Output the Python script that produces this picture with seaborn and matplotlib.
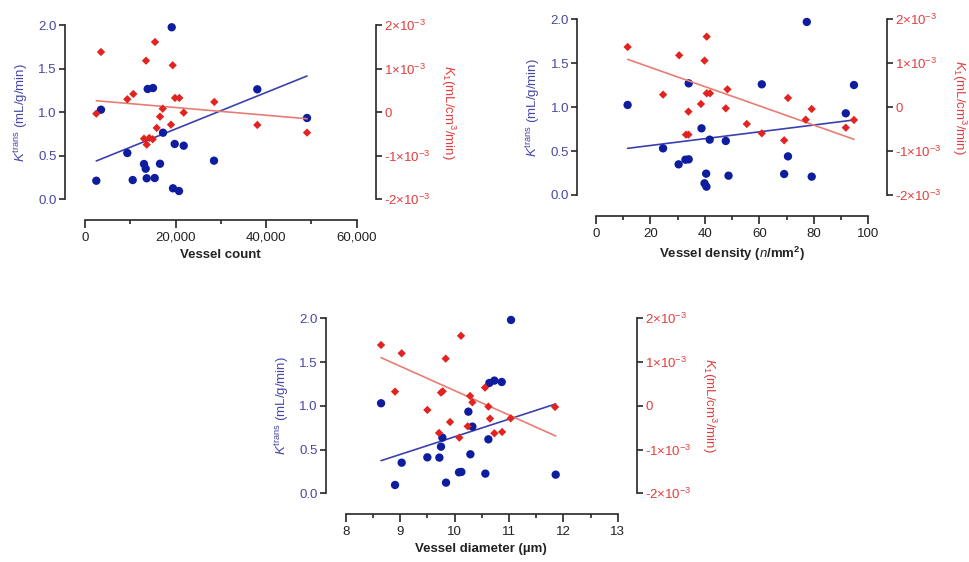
import numpy as np
import pandas as pd
import matplotlib
matplotlib.use("Agg")
import matplotlib.pyplot as plt
from matplotlib.ticker import FixedLocator, FixedFormatter
import seaborn as sns

# ---- Vessel count ----
count_x_ktrans = [2495, 3533, 9340, 10532, 13027, 13403, 13623, 13844, 15014, 15390,
                  16560, 17222, 19143, 19430, 19806, 20755, 21793, 28483, 38044, 49018]
count_ktrans = [0.213, 1.028, 0.531, 0.221, 0.405, 0.351, 0.241, 1.266, 1.277, 0.244,
                0.408, 0.764, 1.974, 0.126, 0.635, 0.095, 0.615, 0.443, 1.262, 0.933]
count_x_k1 = [2495, 3533, 9340, 10664, 13027, 13623, 14197, 14948, 13469, 15456, 15832,
              16560, 17156, 18989, 19364, 19872, 20821, 21793, 28549, 38044, 49018]
count_k1 = [-0.034e-3, 1.381e-3, 0.296e-3, 0.417e-3, -0.608e-3, -0.745e-3, -0.592e-3,
            -0.622e-3, 1.181e-3, 1.610e-3, -0.362e-3, -0.103e-3, 0.080e-3, -0.287e-3,
            1.076e-3, 0.326e-3, 0.326e-3, -0.011e-3, 0.234e-3, -0.294e-3, -0.470e-3]
# fitted trend lines (value at the first and last vessel count)
count_fit_x = [2495, 49018]
count_fit_ktrans = [0.440, 1.415]
count_fit_k1 = [0.262e-3, -0.151e-3]

# ---- Vessel density ----
density_x_ktrans = [11.7, 24.7, 30.4, 32.9, 34.1, 34.1, 38.8, 40.5, 39.9, 40.6,
                    41.8, 47.7, 48.7, 60.9, 69.1, 70.5, 77.4, 79.2, 91.7, 94.7]
density_ktrans = [1.025, 0.531, 0.349, 0.402, 0.406, 1.271, 0.759, 0.243, 0.133, 0.095,
                  0.630, 0.615, 0.220, 1.260, 0.239, 0.440, 1.970, 0.209, 0.930, 1.252]
density_x_k1 = [11.7, 24.7, 30.6, 33.1, 34.0, 34.0, 38.6, 40.7, 39.9, 40.7, 41.9,
                47.7, 48.3, 55.4, 60.9, 69.1, 70.5, 77.0, 79.2, 91.7, 94.7]
density_k1 = [1.370e-3, 0.285e-3, 1.180e-3, -0.626e-3, -0.626e-3, -0.102e-3, 0.072e-3,
              1.605e-3, 1.059e-3, 0.315e-3, 0.315e-3, -0.027e-3, 0.406e-3, -0.383e-3,
              -0.596e-3, -0.755e-3, 0.209e-3, -0.285e-3, -0.042e-3, -0.467e-3, -0.292e-3]
density_fit_x = [11.7, 94.7]
density_fit_ktrans = [0.531, 0.854]
density_fit_k1 = [1.089e-3, -0.732e-3]

# ---- Vessel diameter ----
diameter_x_ktrans = [8.650, 8.907, 9.029, 9.501, 9.722, 9.752, 9.777, 9.844, 10.083, 10.126,
                     10.255, 10.292, 10.328, 10.567, 10.623, 10.641, 10.733, 10.868, 11.039, 11.860]
diameter_ktrans = [1.029, 0.095, 0.350, 0.411, 0.408, 0.533, 0.636, 0.122, 0.240, 0.244,
                   0.933, 0.446, 0.762, 0.225, 0.617, 1.261, 1.288, 1.272, 1.981, 0.213]
diameter_x_k1 = [8.650, 8.907, 9.029, 9.501, 9.716, 9.752, 9.783, 9.838, 9.918, 10.089, 10.120,
                 10.243, 10.286, 10.328, 10.561, 10.623, 10.653, 10.733, 10.874, 11.033, 11.848]
diameter_k1 = [1.390e-3, 0.324e-3, 1.200e-3, -0.095e-3, -0.621e-3, 0.301e-3, 0.331e-3,
               1.078e-3, -0.370e-3, -0.728e-3, 1.600e-3, -0.469e-3, 0.225e-3, 0.080e-3,
               0.415e-3, -0.019e-3, -0.293e-3, -0.629e-3, -0.598e-3, -0.286e-3, -0.027e-3]
diameter_fit_x = [8.650, 11.860]
diameter_fit_ktrans = [0.373, 1.021]
diameter_fit_k1 = [1.101e-3, -0.690e-3]

# axis ticks / labels
count_ticks = [0, 20000, 40000, 60000]
count_ticklabels = ["0", "20,000", "40,000", "60,000"]
density_ticks = [0, 20, 40, 60, 80, 100]
density_ticklabels = ["0", "20", "40", "60", "80", "100"]
diameter_ticks = [8, 9, 10, 11, 12, 13]
diameter_ticklabels = ["8", "9", "10", "11", "12", "13"]
ktrans_ticks = [0.0, 0.5, 1.0, 1.5, 2.0]
ktrans_ticklabels = ["0.0", "0.5", "1.0", "1.5", "2.0"]
k1_ticks = [-2e-3, -1e-3, 0, 1e-3, 2e-3]
k1_ticklabels = [r"-2$\times$10$^{-3}$", r"-1$\times$10$^{-3}$", "0",
                 r"1$\times$10$^{-3}$", r"2$\times$10$^{-3}$"]

sns.set_style("ticks")
plt.rcParams["font.family"] = ["Liberation Sans", "DejaVu Sans"]
plt.rcParams["mathtext.fontset"] = "custom"
plt.rcParams["mathtext.rm"] = "Liberation Sans"
plt.rcParams["mathtext.it"] = "Liberation Sans:italic"
plt.rcParams["mathtext.bf"] = "Liberation Sans:bold"

BLUE_PT = "#0e1c9e"
RED_PT = "#e2231f"
BLUE_LINE = "#3c40ae"
RED_LINE = "#e97d74"
BLUE_TXT = "#4747a6"
RED_TXT = "#e23d3d"
AXIS = "#262626"

W, H = 970, 562
fig = plt.figure(figsize=(W / 100, H / 100), dpi=100)
fig.patch.set_facecolor("white")


def px_rect(left, top, right, bottom):
    return [left / W, 1 - bottom / H, (right - left) / W, (bottom - top) / H]


def panel(rect, xlim, ticks, ticklabels, minor, xlabel, xb, kt, xr, k1,
          fit_x, fit_kt, fit_k1):
    ax = fig.add_axes(rect)
    ax2 = ax.twinx()

    sns.lineplot(x=fit_x, y=fit_kt, ax=ax, color=BLUE_LINE, lw=1.2)
    sns.scatterplot(x=xb, y=kt, ax=ax, color=BLUE_PT, s=36, edgecolor="none",
                    clip_on=False, zorder=3)
    sns.lineplot(x=fit_x, y=fit_k1, ax=ax2, color=RED_LINE, lw=1.2)
    sns.scatterplot(x=xr, y=k1, ax=ax2, marker="D", color=RED_PT, s=18,
                    edgecolor="none", clip_on=False, zorder=3)

    ax.set_xlim(*xlim)
    ax.set_ylim(0, 2)
    ax2.set_ylim(-2e-3, 2e-3)

    # spines
    for a in (ax, ax2):
        a.spines["top"].set_visible(False)
    ax.spines["right"].set_visible(False)
    ax2.spines["left"].set_visible(False)
    ax2.spines["bottom"].set_visible(False)
    for s in ("left", "bottom"):
        ax.spines[s].set_color(AXIS)
        ax.spines[s].set_linewidth(1.2)
    ax2.spines["right"].set_color(AXIS)
    ax2.spines["right"].set_linewidth(1.2)
    ax.spines["bottom"].set_position(("outward", 15))
    ax.spines["bottom"].set_bounds(ticks[0], ticks[-1])

    # x axis
    ax.xaxis.set_major_locator(FixedLocator(ticks))
    ax.xaxis.set_major_formatter(FixedFormatter(ticklabels))
    ax.xaxis.set_minor_locator(FixedLocator(minor))
    ax.tick_params(axis="x", which="major", direction="out", length=5.5, width=1.2,
                   color=AXIS, labelsize=9.5, labelcolor="#222222", pad=3)
    ax.tick_params(axis="x", which="minor", direction="out", length=3, width=1.2, color=AXIS)
    ax.set_xlabel(xlabel, fontsize=9.5, fontweight="bold", color="#222222", labelpad=4)

    # left y axis
    ax.yaxis.set_major_locator(FixedLocator(ktrans_ticks))
    ax.yaxis.set_major_formatter(FixedFormatter(ktrans_ticklabels))
    ax.tick_params(axis="y", direction="out", length=4, width=1.2, color=AXIS,
                   labelsize=9.5, labelcolor=BLUE_TXT, pad=2)
    ax.set_ylabel(r"$K^{\mathrm{trans}}$ (mL/g/min)", fontsize=9.5, color=BLUE_TXT,
                  labelpad=6)

    # right y axis
    ax2.yaxis.set_major_locator(FixedLocator(k1_ticks))
    ax2.yaxis.set_major_formatter(FixedFormatter(k1_ticklabels))
    ax2.tick_params(axis="y", direction="out", length=4, width=1.2, color=AXIS,
                    labelsize=9.5, labelcolor=RED_TXT, pad=2)
    ax2.set_ylabel(r"$K_1$(mL/cm$^3$/min)", fontsize=9.5, color=RED_TXT,
                   rotation=270, labelpad=19)
    for a in (ax, ax2):
        a.set_facecolor("none")
        a.grid(False)
    return ax, ax2


panel(px_rect(65, 25, 376, 199.3), (-4416, 64250), count_ticks, count_ticklabels,
      [10000, 30000, 50000], "Vessel count",
      count_x_ktrans, count_ktrans, count_x_k1, count_k1,
      count_fit_x, count_fit_ktrans, count_fit_k1)

panel(px_rect(577.3, 19.3, 886.7, 195), (-6.75, 106.7), density_ticks, density_ticklabels,
      [10, 30, 50, 70, 90], r"Vessel density ($\mathbf{\mathit{n}}$/mm$^\mathbf{2}$)",
      density_x_ktrans, density_ktrans, density_x_k1, density_k1,
      density_fit_x, density_fit_ktrans, density_fit_k1)

panel(px_rect(326, 318.3, 636.7, 493.3), (7.638, 13.349), diameter_ticks, diameter_ticklabels,
      [8.5, 9.5, 10.5, 11.5, 12.5], "Vessel diameter (µm)",
      diameter_x_ktrans, diameter_ktrans, diameter_x_k1, diameter_k1,
      diameter_fit_x, diameter_fit_ktrans, diameter_fit_k1)

fig.savefig("out.png", dpi=100, facecolor="white")
